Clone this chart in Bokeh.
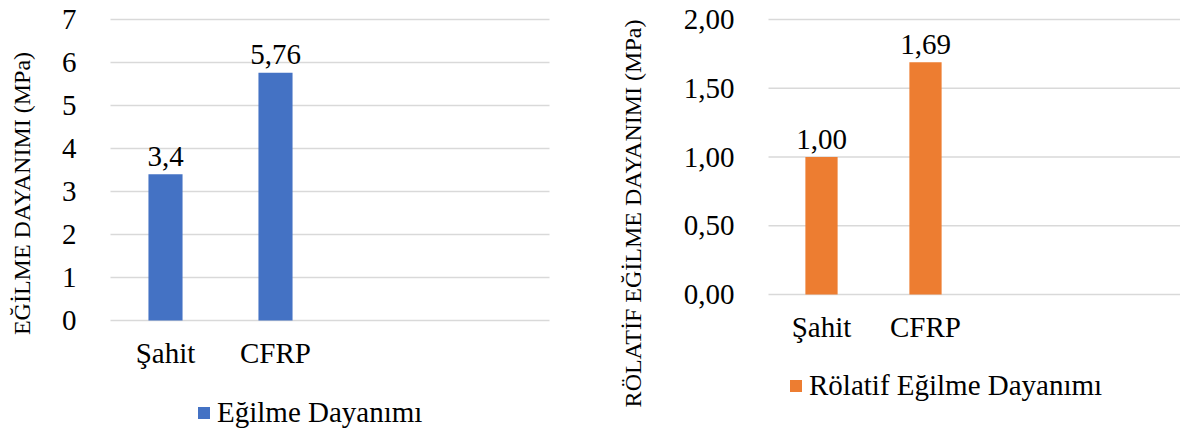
import math
from bokeh.plotting import figure
from bokeh.layouts import row
from bokeh.models import (Range1d, FixedTicker, CustomJSTickFormatter,
                          Legend, LegendItem, Label, ColumnDataSource)
from bokeh.core.properties import value
from bokeh.embed import file_html
from bokeh.resources import INLINE

# ---- data ----
categories = ["Şahit", "CFRP"]
strength = [3.4, 5.76]
strength_labels = ["3,4", "5,76"]
relative = [1.00, 1.69]
relative_labels = ["1,00", "1,69"]
left_ticks = [0, 1, 2, 3, 4, 5, 6, 7]
right_ticks = [0.0, 0.5, 1.0, 1.5, 2.0]
left_series = "Eğilme Dayanımı"
right_series = "Rölatif Eğilme Dayanımı"
left_ytitle = "EĞİLME DAYANIMI (MPa)"
right_ytitle = "RÖLATİF EĞİLME DAYANIMI (MPa)"

FONT = "Liberation Serif"
GRID = "#D9D9D9"
H = 429


def make_chart(vals, labels, ticks, color, series, ytitle, ylabel_code, width,
               plot_left, plot_right, top_px, zero_px, first_center, step,
               title_xy, leg_loc):
    ymax = ticks[-1]
    positions = [i + 0.5 for i in range(len(categories))]
    ux = float(step)
    x_start = -(first_center - 0.5 * ux) / ux
    x_end = x_start + width / ux
    gx0 = x_start + plot_left / ux
    gx1 = x_start + plot_right / ux
    uy = (zero_px - top_px) / ymax
    y_start = -(H - zero_px) / uy
    y_end = ymax + top_px / uy

    p = figure(width=width, height=H, output_backend="svg", toolbar_location=None,
               x_range=Range1d(x_start, x_end), y_range=Range1d(y_start, y_end),
               min_border=0, min_border_left=0, min_border_right=0,
               min_border_top=0, min_border_bottom=0)
    p.outline_line_color = None
    p.background_fill_color = "white"
    p.border_fill_color = "white"
    p.xgrid.visible = False
    p.ygrid.visible = False

    # horizontal gridlines across the plot area
    p.segment(x0=[gx0] * len(ticks), x1=[gx1] * len(ticks), y0=ticks, y1=ticks,
              line_color=GRID, line_width=1.5)

    src = ColumnDataSource(dict(x=positions, top=vals, lab=labels))
    r = p.vbar(x="x", top="top", bottom=0, width=0.31, source=src,
               fill_color=color, line_color=None)
    p.text(x="x", y="top", text="lab", source=src, text_align="center",
           text_baseline="alphabetic", y_offset=-18, text_font=value(FONT),
           text_font_size="29px", text_color="black")

    # axes
    p.yaxis.fixed_location = gx0
    p.yaxis.ticker = FixedTicker(ticks=ticks)
    if ylabel_code:
        p.yaxis.formatter = CustomJSTickFormatter(code=ylabel_code)
    p.xaxis.fixed_location = 0
    p.xaxis.ticker = FixedTicker(ticks=positions)
    p.xaxis.formatter = CustomJSTickFormatter(args=dict(names=categories),
                                              code="return names[index];")
    for ax in (p.xaxis, p.yaxis):
        ax.axis_line_color = None
        ax.major_tick_line_color = None
        ax.minor_tick_line_color = None
        ax.major_label_text_font = FONT
        ax.major_label_text_font_size = "29px"
        ax.major_label_text_color = "black"
    p.yaxis.major_label_standoff = 28
    p.xaxis.major_label_standoff = 10

    p.add_layout(Label(x=title_xy[0], y=title_xy[1], x_units="screen", y_units="screen",
                       text=ytitle, angle=math.pi / 2, text_align="center",
                       text_baseline="middle", text_font=FONT, text_font_size="24px",
                       text_color="black"))

    leg = Legend(items=[LegendItem(label=series, renderers=[r])], location=leg_loc,
                 orientation="horizontal", border_line_color=None,
                 background_fill_alpha=0, padding=0, margin=0, glyph_width=15,
                 glyph_height=15, label_standoff=6, label_text_font=FONT,
                 label_text_font_size="29px", label_text_color="black")
    p.add_layout(leg, "center")
    return p


left = make_chart(strength, strength_labels, left_ticks, "#4472C4", left_series,
                  left_ytitle, None, 600,
                  110, 549, 19, 320, 165, 110, (21.5, 236), (196, 0))
right = make_chart(relative, relative_labels, right_ticks, "#ED7D31", right_series,
                   right_ytitle, "return tick.toFixed(2).replace('.', ',');", 580,
                   168, 580, 19, 294, 221, 104, (32.5, 216), (188, 27))

layout = row(left, right)
open("out.html", "w").write(file_html(layout, INLINE))
